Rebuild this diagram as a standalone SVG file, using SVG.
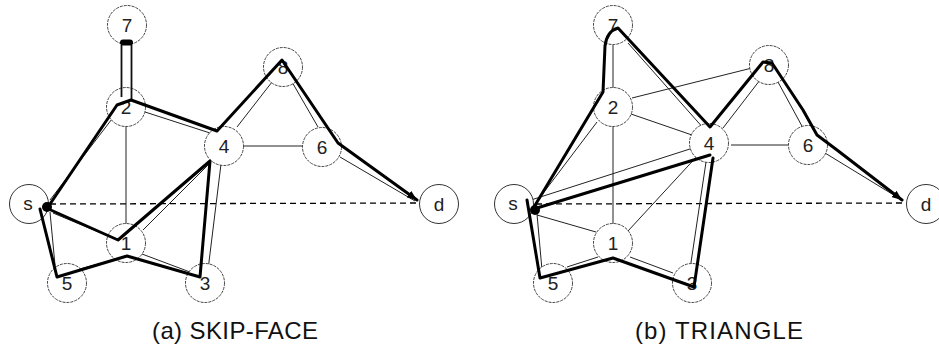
<svg xmlns="http://www.w3.org/2000/svg" width="939" height="347" viewBox="0 0 939 347">
<style>
.thin{stroke:#222;stroke-width:1;fill:none}
.dash{stroke:#000;stroke-width:1.3;stroke-dasharray:6 4;fill:none}
.route{stroke:#000;stroke-width:3;fill:none;stroke-linejoin:round;stroke-linecap:round}
.dbl{stroke:#111;stroke-width:1.8;fill:none}
.node circle{fill:#fff;stroke:#444;stroke-width:1;stroke-dasharray:3 1}
.node.end circle{stroke-dasharray:none;stroke:#333}
.lbl{font-family:'Liberation Sans',Arial,sans-serif;font-size:19px;text-anchor:middle;fill:#222}
.cap{font-family:'Liberation Sans',Arial,sans-serif;font-size:24px;fill:#111}
.blob{fill:#000}
</style>
<defs>
<marker id="arrow" markerUnits="userSpaceOnUse" viewBox="0 0 10 8" refX="10" refY="4" markerWidth="10" markerHeight="8" orient="auto">
<path d="M0,0 L10,4 L0,8 z" fill="#000"/>
</marker>
</defs>
<rect width="939" height="347" fill="#fff"/>

<!-- panel (a) edges -->
<g id="edges-a">
<path class="thin" d="M126,126 L126,224"/>
<path class="thin" d="M243,146 L302,146"/>
<path class="dash" d="M50,204 L417,203"/>
<path class="thin" d="M50,200 L115,115"/>
<path class="thin" d="M145,112 L210,133"/>
<path class="thin" d="M237,127 L272,82"/>
<path class="thin" d="M292,82 L318,127"/>
<path class="thin" d="M340,157 L415,201"/>
<path class="thin" d="M53,213 L113,238"/>
<path class="thin" d="M143,230 L208,165"/>
<path class="thin" d="M221,164 L208,270"/>
<path class="thin" d="M142,254 L190,272"/>
<path class="thin" d="M80,269 L113,260"/>
<path class="thin" d="M55,265 L50,212"/>
</g>

<!-- panel (b) edges -->
<g id="edges-b">
<path class="thin" d="M613,126 L613,224"/>
<path class="thin" d="M613,45 L613,88"/>
<path class="thin" d="M731,145 L788,145"/>
<path class="thin" d="M632,98 L752,68"/>
<path class="thin" d="M631,114 L692,135"/>
<path class="thin" d="M628,231 L700,153"/>
<path class="thin" d="M537,215 L596,232"/>
<path class="dash" d="M536,204 L903,203"/>
<path class="thin" d="M538,200 L597,122"/>
<path class="thin" d="M628,43 L705,130"/>
<path class="thin" d="M723,128 L760,80"/>
<path class="thin" d="M778,82 L803,128"/>
<path class="thin" d="M825,153 L897,197"/>
<path class="thin" d="M531,200 L693,148"/>
<path class="thin" d="M706,162 L689,276"/>
<path class="thin" d="M630,257 L673,273"/>
<path class="thin" d="M567,267 L598,257"/>
<path class="thin" d="M542,270 L537,214"/>
</g>

<!-- panel (a) nodes -->
<g id="a-node-7" class="node"><circle cx="127" cy="25" r="19.5"/><text class="lbl" x="127" y="32">7</text></g>
<g id="a-node-2" class="node"><circle cx="126" cy="107" r="19.5"/><text class="lbl" x="126" y="114">2</text></g>
<g id="a-node-8" class="node"><circle cx="283" cy="67" r="19.5"/><text class="lbl" x="283" y="74">8</text></g>
<g id="a-node-4" class="node"><circle cx="224" cy="146" r="19.5"/><text class="lbl" x="224" y="153">4</text></g>
<g id="a-node-6" class="node"><circle cx="322" cy="147" r="19.5"/><text class="lbl" x="322" y="154">6</text></g>
<g id="a-node-s" class="node end"><circle cx="29" cy="204" r="19.5"/><text class="lbl" x="28" y="210">s</text></g>
<g id="a-node-d" class="node end"><circle cx="439" cy="204" r="19.5"/><text class="lbl" x="439" y="211">d</text></g>
<g id="a-node-1" class="node"><circle cx="126" cy="243" r="19.5"/><text class="lbl" x="126" y="250">1</text></g>
<g id="a-node-5" class="node"><circle cx="67" cy="283" r="19.5"/><text class="lbl" x="67" y="290">5</text></g>
<g id="a-node-3" class="node"><circle cx="205" cy="283" r="19.5"/><text class="lbl" x="205" y="290">3</text></g>

<!-- panel (b) nodes -->
<g id="b-node-7" class="node"><circle cx="613" cy="25" r="19.5"/><text class="lbl" x="613" y="32">7</text></g>
<g id="b-node-2" class="node"><circle cx="613" cy="107" r="19.5"/><text class="lbl" x="613" y="114">2</text></g>
<g id="b-node-8" class="node"><circle cx="769" cy="65" r="19.5"/><text class="lbl" x="769" y="72">8</text></g>
<g id="b-node-4" class="node"><circle cx="709" cy="143" r="19.5"/><text class="lbl" x="709" y="150">4</text></g>
<g id="b-node-6" class="node"><circle cx="808" cy="145" r="19.5"/><text class="lbl" x="808" y="152">6</text></g>
<g id="b-node-s" class="node end"><circle cx="514" cy="204" r="19.5"/><text class="lbl" x="513" y="210">s</text></g>
<g id="b-node-d" class="node end"><circle cx="926" cy="204" r="19.5"/><text class="lbl" x="926" y="211">d</text></g>
<g id="b-node-1" class="node"><circle cx="613" cy="243" r="19.5"/><text class="lbl" x="613" y="250">1</text></g>
<g id="b-node-5" class="node"><circle cx="553" cy="283" r="19.5"/><text class="lbl" x="553" y="290">5</text></g>
<g id="b-node-3" class="node"><circle cx="692" cy="283" r="19.5"/><text class="lbl" x="692" y="290">3</text></g>

<!-- routes -->
<g id="routes-a">
<path class="dbl" d="M121.5,97 L121.5,45 M131.5,45 L131.5,99"/>
<rect x="120" y="39.5" width="13" height="6" rx="3" fill="#000"/>
<path class="route" d="M48,207 L117,105 L131,100 L217,131 L282,60 L338,143 L417,200" stroke-linecap="butt" marker-end="url(#arrow)"/>
<path class="route" d="M44,207 L118,240 L210,161 L200,277 L127,256 L57,277 L40,209"/>
<circle class="blob" cx="47" cy="207" r="5"/>
</g>
<g id="routes-b">
<path class="route" d="M534,207 L603,92 L605,46 Q607,31 618,28 L710,127 L763,62 L772,63 L803,110 L817,135 L837,150 L902,200" stroke-linecap="butt" marker-end="url(#arrow)"/>
<path class="route" d="M537,208 L710,155"/>
<path class="route" d="M713,158 L694,287 L613,258 L540,278 L527,200"/>
<circle class="blob" cx="535" cy="210" r="5"/>
</g>

<text class="cap" x="152" y="339" textLength="166" lengthAdjust="spacing">(a) SKIP-FACE</text>
<text class="cap" x="635" y="339" textLength="168" lengthAdjust="spacing">(b) TRIANGLE</text>
</svg>
